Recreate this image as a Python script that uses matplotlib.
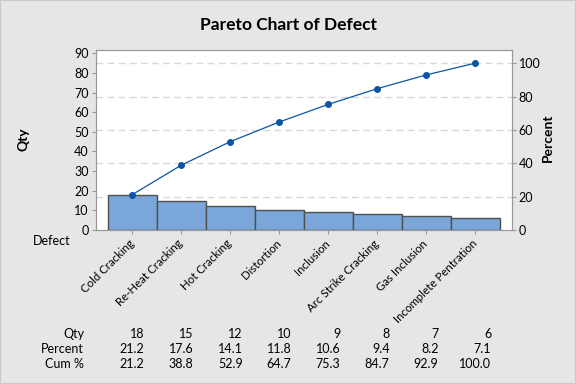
import matplotlib
matplotlib.use("Agg")
import matplotlib.pyplot as plt
import matplotlib.transforms as mtransforms
import numpy as np

categories = ["Cold Cracking", "Re-Heat Cracking", "Hot Cracking", "Distortion",
              "Inclusion", "Arc Strike Cracking", "Gas Inclusion", "Incomplete Pentration"]
qty = [18, 15, 12, 10, 9, 8, 7, 6]
percent = [21.2, 17.6, 14.1, 11.8, 10.6, 9.4, 8.2, 7.1]
cum_pct = [21.2, 38.8, 52.9, 64.7, 75.3, 84.7, 92.9, 100.0]
left_ticks = [0, 10, 20, 30, 40, 50, 60, 70, 80, 90]
right_ticks = [0, 20, 40, 60, 80, 100]

plt.rcParams['font.family'] = ['Lato', 'DejaVu Sans']

W, H = 576, 384
fig = plt.figure(figsize=(W / 100, H / 100), dpi=100, facecolor='#e6e6e6')
fig.patches.append(plt.Rectangle((0, 0), 1, 1, transform=fig.transFigure,
                                 fill=False, edgecolor='#c8c8c8', lw=1.5))

ax = fig.add_axes([95.7 / W, 1 - 230 / H, (511.7 - 95.7) / W, 180 / H])
ax.set_facecolor('white')
total = sum(qty)
x = np.arange(len(categories))
ymax = total * 91.7 / 85
ax.bar(x, qty, width=1.0, color='#7ba6d9', edgecolor='#505050', linewidth=1.0, zorder=3)
cum_counts = np.cumsum(qty)
ax.plot(x, cum_counts, color='#0a55a5', lw=0.9, marker='o', markersize=4, zorder=4)
ax.set_xlim(-0.745, len(categories) - 1 + 0.745)
ax.set_ylim(0, ymax)
ax.set_yticks(left_ticks)
ax.set_xticks(x)
ax.set_xticklabels(categories, rotation=45, ha='right', va='center',
                   rotation_mode='anchor', fontsize=8.3)
ax.tick_params(axis='x', length=3, color='#999999', pad=5.5)
ax.tick_params(axis='y', labelsize=9, length=3, color='#999999', pad=2)
for s in ax.spines.values():
    s.set_color('#999999')

ax2 = ax.twinx()
ax2.set_ylim(0, ymax / total * 100)
ax2.set_yticks(right_ticks)
ax2.tick_params(axis='y', labelsize=9, length=3, color='#999999', pad=2)
for s in ax2.spines.values():
    s.set_color('#999999')
for t in right_ticks[1:]:
    ax.axhline(t * total / 100, color='#d9d9d9', lw=1, ls=(0, (5, 3)), zorder=1)

fig.text(0.5, 1 - 25 / H, "Pareto Chart of Defect", ha='center', va='center',
         fontsize=12.5, fontweight='bold')
fig.text(23 / W, 1 - 139 / H, "Qty", rotation=90, ha='center', va='center',
         fontsize=10, fontweight='bold')
fig.text(548 / W, 1 - 138 / H, "Percent", rotation=90, ha='center', va='center',
         fontsize=10, fontweight='bold')
fig.text(70 / W, 1 - 241 / H, "Defect", ha='right', va='center', fontsize=9)

rows = [("Qty", [str(v) for v in qty]),
        ("Percent", [f"{v:.1f}" for v in percent]),
        ("Cum %", [f"{v:.1f}" for v in cum_pct])]
row_y = [334, 349.3, 364]
renderer = fig.canvas.get_renderer()
trans = mtransforms.blended_transform_factory(ax.transData, fig.transFigure)
# column block centered on each bar, entries right-aligned within the block
cells = []
for (name, vals), yy in zip(rows, row_y):
    fig.text(84 / W, 1 - yy / H, name, ha='right', va='center', fontsize=9)
    row_cells = []
    for i, v in enumerate(vals):
        t = fig.text(x[i], 1 - yy / H, v, ha='right', va='center', fontsize=9,
                     transform=trans)
        row_cells.append(t)
    cells.append(row_cells)
for i in range(len(categories)):
    widths = [cells[r][i].get_window_extent(renderer).width for r in range(len(rows))]
    half = max(widths) / 2.0
    offset = mtransforms.ScaledTranslation(half / 100, 0, fig.dpi_scale_trans)
    for r in range(len(rows)):
        cells[r][i].set_transform(trans + offset)

fig.savefig("out.png", dpi=100, facecolor=fig.get_facecolor())
